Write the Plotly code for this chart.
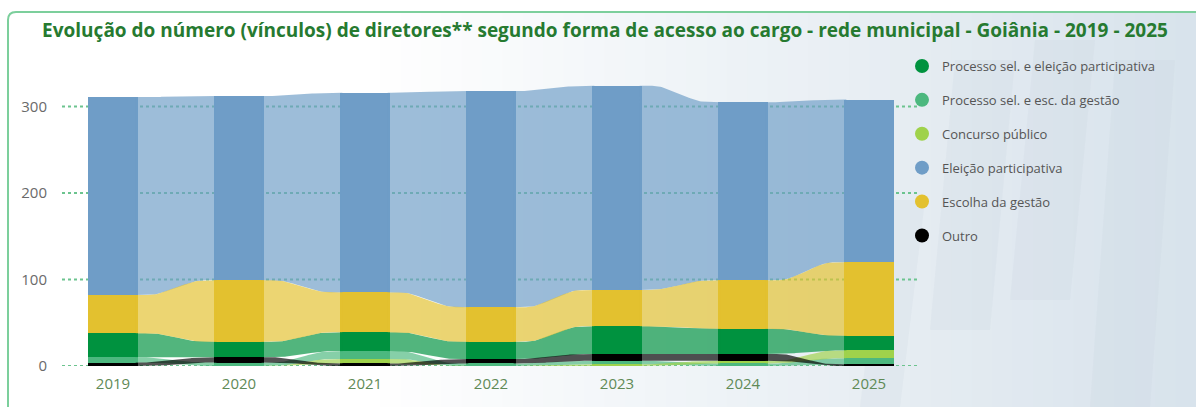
import numpy as np
import plotly.graph_objects as go

# ---- data -------------------------------------------------------------
years = [2019, 2020, 2021, 2022, 2023, 2024, 2025]

series_names = [
    "Processo sel. e eleição participativa",
    "Processo sel. e esc. da gestão",
    "Concurso público",
    "Eleição participativa",
    "Escolha da gestão",
    "Outro",
]

proc_eleicao = [28, 18, 22, 20, 32, 29, 17]
proc_escolha = [6, 4, 9, 3, 4, 3, 7]
concurso = [0, 0, 5, 0, 2, 3, 9]
eleicao = [229, 213, 231, 250, 236, 206, 188]
escolha = [44, 71, 46, 40, 42, 56, 85]
outro = [4, 6, 3, 5, 8, 8, 2]

y_ticks = [0, 100, 200, 300]

values = [proc_eleicao, proc_escolha, concurso, eleicao, escolha, outro]
colors = ["#00923f", "#4cb87f", "#9fd24b", "#6f9dc7", "#e3c12f", "#000000"]

# ---- figure geometry (pixels) ----------------------------------------
W, H = 1196, 407
L, R, T, B = 62, 8, 80, 41
PW, PH = W - L - R, H - T - B
GRID_RIGHT = 917           # gridlines stop before the legend
YEAR_PX = 126              # horizontal distance between columns
FIRST_PX = 113             # centre of the first column
HALF = 0.2                 # half column width, in years


def px_x(px):
    return (px - L) / PW


def px_y(py):
    return (H - B - py) / PH


def rgba(hex_color, a):
    h = hex_color.lstrip("#")
    r, g, b = int(h[0:2], 16), int(h[2:4], 16), int(h[4:6], 16)
    return f"rgba({r},{g},{b},{a})"


# stacking by rank: smallest at the bottom of each column
n_years = len(years)
bottoms = [[0.0] * n_years for _ in values]
for j in range(n_years):
    order = sorted(range(len(values)), key=lambda k: values[k][j])
    acc = 0.0
    for k in order:
        bottoms[k][j] = acc
        acc += values[k][j]

fig = go.Figure()

# ribbons between columns (start slightly inside the columns to avoid seams)
t = np.linspace(0, 1, 60)
tt = np.clip((t - 0.15) / 0.7, 0, 1)
s = tt * tt * (3 - 2 * tt)
for k, name in enumerate(series_names):
    for j in range(n_years - 1):
        xa = years[j] + HALF - 0.02
        xb = years[j + 1] - HALF + 0.02
        xs = xa + (xb - xa) * t
        b0, b1 = bottoms[k][j], bottoms[k][j + 1]
        t0, t1 = b0 + values[k][j], b1 + values[k][j + 1]
        lo = b0 + (b1 - b0) * s
        hi = t0 + (t1 - t0) * s
        fig.add_trace(go.Scatter(
            x=np.concatenate([xs, xs[::-1]]),
            y=np.concatenate([lo, hi[::-1]]),
            fill="toself",
            fillcolor=rgba(colors[k], 0.68),
            line=dict(width=0),
            mode="lines",
            hoverinfo="skip",
            showlegend=False,
        ))

# columns
for k, name in enumerate(series_names):
    fig.add_trace(go.Bar(
        x=years,
        y=values[k],
        base=bottoms[k],
        width=2 * HALF,
        marker=dict(color=colors[k], line=dict(width=0)),
        name=name,
        showlegend=False,
    ))

# legend entries
for k, name in enumerate(series_names):
    fig.add_trace(go.Scatter(
        x=[None], y=[None],
        mode="markers",
        marker=dict(symbol="circle", size=14, color=colors[k]),
        name=name,
        legendgroup=name,
        showlegend=True,
    ))

# background: soft gradient toward the right
shapes = []
n_strips = 40
x_start = 380
for i in range(n_strips):
    x0 = x_start + (W - x_start) * i / n_strips
    x1 = x_start + (W - x_start) * (i + 1) / n_strips + 1
    f = (i + 0.5) / n_strips
    c0 = np.array([255, 255, 255])
    c1 = np.array([216, 227, 236])
    c = (c0 + (c1 - c0) * f).astype(int)
    shapes.append(dict(
        type="rect", xref="paper", yref="paper", layer="below",
        x0=px_x(x0), x1=px_x(x1), y0=px_y(H), y1=px_y(12),
        fillcolor=f"rgb({c[0]},{c[1]},{c[2]})", line=dict(width=0),
    ))

# faint slanted panels on the right
for (xa, xb, ya, yb) in [(930, 990, 60, 330), (1010, 1070, 40, 300),
                          (1090, 1150, 60, 407), (860, 900, 200, 407)]:
    path = (f"M {px_x(xa)} {px_y(yb)} L {px_x(xa + 25)} {px_y(ya)} "
            f"L {px_x(xb + 25)} {px_y(ya)} L {px_x(xb)} {px_y(yb)} Z")
    shapes.append(dict(
        type="path", xref="paper", yref="paper", layer="below", path=path,
        fillcolor="rgba(195,208,220,0.16)", line=dict(width=0),
    ))

# dotted horizontal gridlines
for v in y_ticks:
    shapes.append(dict(
        type="line", xref="paper", yref="y", layer="below",
        x0=0, x1=px_x(GRID_RIGHT), y0=v, y1=v,
        line=dict(color="#6cc48f", width=2, dash="dot"),
    ))

# panel border
border_path = (f"M {px_x(8)} {px_y(H + 2)} L {px_x(8)} {px_y(20)} "
               f"Q {px_x(8)} {px_y(12)} {px_x(16)} {px_y(12)} "
               f"L {px_x(W + 2)} {px_y(12)}")
shapes.append(dict(
    type="path", xref="paper", yref="paper", layer="above", path=border_path,
    line=dict(color="#7ccf9c", width=2),
))

x_lo = years[0] - (FIRST_PX - L) / YEAR_PX
x_hi = years[0] + (W - R - FIRST_PX) / YEAR_PX

fig.update_layout(
    width=W, height=H,
    margin=dict(l=L, r=R, t=T, b=B, pad=0),
    paper_bgcolor="white",
    plot_bgcolor="rgba(0,0,0,0)",
    barmode="overlay",
    bargap=0,
    shapes=shapes,
    font=dict(family="Open Sans", color="#666666"),
    title=dict(
        text="Evolução do número (vínculos) de diretores** segundo forma de acesso ao cargo - rede municipal - Goiânia - 2019 - 2025",
        font=dict(family="Open Sans", size=19, color="#267a30", weight="bold"),
        x=605 / W, xanchor="center", xref="container",
        y=1 - 30 / H, yanchor="middle", yref="container",
    ),
    xaxis=dict(
        range=[x_lo, x_hi],
        tickvals=years,
        ticktext=[str(y) for y in years],
        showgrid=False, zeroline=False, showline=False, ticks="",
        tickfont=dict(size=15, color="#5f8a56"),
        ticklabelstandoff=7,
    ),
    yaxis=dict(
        range=[0, PH / 0.865],
        tickvals=y_ticks,
        showgrid=False, zeroline=False, showline=False, ticks="",
        tickfont=dict(size=15, color="#6a6a6a"),
        ticklabelstandoff=14,
    ),
    legend=dict(
        x=px_x(902), xanchor="left",
        y=px_y(51), yanchor="top",
        font=dict(size=13, color="#555555"),
        bgcolor="rgba(0,0,0,0)",
        tracegroupgap=14,
        itemwidth=30,
    ),
    showlegend=True,
)

fig.write_html("out.html")
